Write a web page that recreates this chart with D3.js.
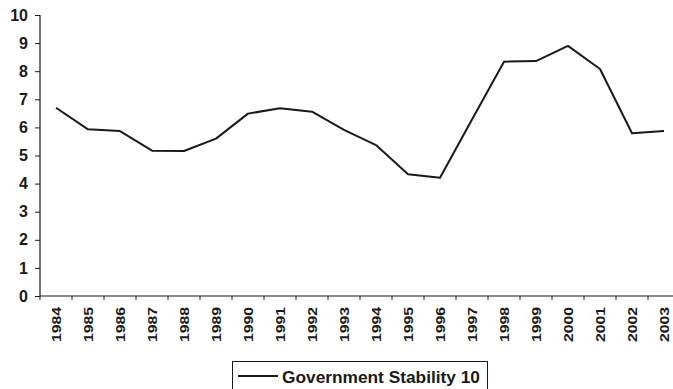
<!DOCTYPE html>
<html><head><meta charset="utf-8">
<script src="https://cdn.jsdelivr.net/npm/d3@7"></script>
<style>
html,body{margin:0;padding:0;background:#fff;overflow:hidden}
svg{display:block;font-family:"Liberation Sans",Arial,sans-serif}
</style></head><body>
<svg id="c" width="673" height="389"></svg>
<script>
const years = ["1984","1985","1986","1987","1988","1989","1990","1991","1992","1993","1994","1995","1996","1997","1998","1999","2000","2001","2002","2003"];
const stability = [6.70,5.93,5.87,5.17,5.16,5.60,6.49,6.68,6.56,5.91,5.37,4.33,4.21,6.28,8.34,8.36,8.90,8.08,5.79,5.87];
const yTicks = [0,1,2,3,4,5,6,7,8,9,10];
const seriesName = "Government Stability 10";

const svg = d3.select("#c");
const x = d3.scaleBand().domain(years).range([40, 680]);
const y = d3.scaleLinear().domain([0, 10]).range([296, 15]);
const ink = "#1a1a1a";

const yAxis = svg.append("g").attr("transform","translate(40,0)")
  .call(d3.axisLeft(y).tickValues(yTicks).tickSize(5).tickPadding(7).tickFormat(d3.format("d")));
yAxis.select(".domain").attr("stroke", ink).attr("stroke-width",1.2).attr("d","M0,15V296");
yAxis.selectAll(".tick line").attr("stroke", ink);
yAxis.selectAll("text").attr("fill", ink).attr("font-size","16px").attr("font-weight","bold");

const xAxis = svg.append("g").attr("transform","translate(0,296)")
  .call(d3.axisBottom(x).tickSize(0).tickPadding(0));
xAxis.select(".domain").attr("stroke", ink).attr("stroke-width",1.2).attr("d","M40,0H680");
xAxis.selectAll(".tick text").attr("fill", ink).attr("font-size","13px").attr("font-weight","bold")
  .attr("transform","rotate(-90)").attr("text-anchor","end").attr("dy","0.35em")
  .attr("x", -11).attr("y", 0)
  .attr("textLength", 35).attr("lengthAdjust","spacingAndGlyphs");
// boundary ticks
svg.append("g").selectAll("line").data(years).join("line")
  .attr("x1", d => x(d)).attr("x2", d => x(d)).attr("y1", 296).attr("y2", 300)
  .attr("stroke", ink);

const line = d3.line().x((d,i) => x(years[i]) + x.bandwidth()/2).y(d => y(d));
svg.append("path").datum(stability).attr("d", line)
  .attr("fill","none").attr("stroke", ink).attr("stroke-width",2).attr("stroke-linejoin","round");

// legend
const lg = svg.append("g");
lg.append("rect").attr("x",232.5).attr("y",361.5).attr("width",255).attr("height",34)
  .attr("fill","none").attr("stroke",ink).attr("stroke-width",1);
lg.append("line").attr("x1",238).attr("x2",278).attr("y1",376).attr("y2",376)
  .attr("stroke",ink).attr("stroke-width",1.8);
lg.append("text").attr("x",282).attr("y",377).attr("dy","0.35em")
  .attr("font-size","17px").attr("font-weight","bold").attr("fill",ink)
  .attr("textLength",198).attr("lengthAdjust","spacingAndGlyphs").text(seriesName);
</script>
</body></html>
